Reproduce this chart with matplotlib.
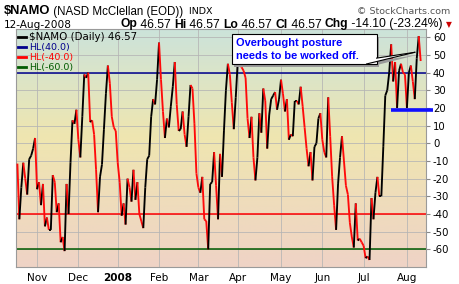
import numpy as np
import pandas as pd
import matplotlib
matplotlib.use("Agg")
import matplotlib.pyplot as plt
from matplotlib.collections import LineCollection
from matplotlib.colors import LinearSegmentedColormap
from matplotlib.lines import Line2D
from matplotlib.patches import Rectangle, Polygon

plt.rcParams['axes.unicode_minus'] = False

# trading days, Oct 18 2007 .. Aug 12 2008
holidays = ['2007-11-22', '2007-12-25', '2008-01-01', '2008-01-21',
            '2008-02-18', '2008-03-21', '2008-05-26', '2008-07-04']
dates = pd.bdate_range('2007-10-18', '2008-08-12')
dates = dates[~dates.isin(pd.to_datetime(holidays))]

# NASD McClellan Oscillator
namo = [-11.5, -43, -25, -11, -20, -29, -9, -7, -3, 3,
        -26, -22, -35, -23, -47, -42, -49, -49, -18, -22,
        -39, -34, -56, -53, -61, -23, -40, -11, 13, 11,
        19, 2, -8, 15, 39, 37, 40, 12, 13, 5,
        -15, -39, -19, -12, 8, 28, 44, 34, 15, 9,
        7, -11, -22, -41, -34, -46, -20, -25, -33, -15,
        -32, -22, -40, -44, -48, -25, -9, -7, 15, 25,
        22, 36, 57, 36, 18, 3, 14, 9, 21, 32,
        46, 22, 7, 8, 18, 5, -2, 15, 33, 31,
        11, -17, -25, -28, -19, -43, -44, -60, -23, -22,
        -5, -24, -43, -6, -19, 7, 30, 45, 39, 23,
        8, 26, 46, 45, 43, 41, 37, 14, 3, 15,
        -8, -21, -8, 17, 6, 31, 24, -3, 16, 25,
        27, 29, 19, 25, 36, 28, 18, 25, 2, 5,
        4, 24, 24, 22, 32, 21, 9, -3, -13, -5,
        -21, -2, 0, 14, 17, 2, -5, -8, 26, 4,
        -19, -35, -49, -23, -8, 4, -10, -24, -29, -45,
        -53, -59, -34, -55, -54, -56, -58, -65, -64, -66,
        -31, -43, -28, -19, -30, -30, -2, 27, 30, 40,
        56, 35, 46, 20, 41, 45, 40, 39, 20, 40,
        44, 35, 25, 48, 60.67, 46.57]
assert len(namo) == len(dates)

hl_levels = [40, -40, -60]
hl_colors = ['#00008c', '#ff0000', '#005a00']
hl_labels = ['HL(40.0)', 'HL(-40.0)', 'HL(-60.0)']
support_level = 19
month_labels = ['Nov', 'Dec', '2008', 'Feb', 'Mar', 'Apr', 'May', 'Jun', 'Jul', 'Aug']
yticks = list(range(-60, 61, 10))

W, H = 460, 284
fig = plt.figure(figsize=(W / 100, H / 100), dpi=100)
ax = fig.add_axes([16 / W, 1 - 267 / H, 410 / W, (267 - 29.5) / H])

x = np.arange(len(dates))
y = np.array(namo)
xmin, xmax, ymin, ymax = -0.7, 207.7, -70, 64.4

# background gradient
cmap = LinearSegmentedColormap.from_list(
    'bg', [(0, '#cce3da'), (0.45, '#efe6b0'), (1, '#efd3c6')])
grad = np.linspace(0, 1, 256).reshape(-1, 1)
ax.imshow(grad, extent=[xmin, xmax, ymin, ymax], aspect='auto', cmap=cmap,
          zorder=0, interpolation='bicubic')

# month ticks at first trading day of each month
month_pos = [i for i in range(1, len(dates)) if dates[i].month != dates[i - 1].month]
ax.set_xticks(month_pos)
ax.set_xticklabels(month_labels)
for lab in ax.get_xticklabels():
    if lab.get_text() == '2008':
        lab.set_fontweight('bold')
ax.set_yticks(yticks)
ax.grid(color='#b4b4b4', lw=0.7, alpha=0.8)
ax.yaxis.tick_right()
ax.tick_params(axis='y', length=3, labelsize=7.3, pad=2, color='#888888')
ax.tick_params(axis='x', length=0, labelsize=7.5, pad=4)
for s in ax.spines.values():
    s.set_color('#9a9a9a')

for lev, c in zip(hl_levels, hl_colors):
    ax.axhline(lev, color=c, lw=1.1, zorder=2)

# price line: black when rising, red when falling
pts = np.column_stack([x, y])
segs = np.stack([pts[:-1], pts[1:]], axis=1)
cols = np.where(np.diff(y) >= 0, '#000000', '#ff0a0a')
ax.add_collection(LineCollection(segs, colors=cols, lw=1.35, zorder=3))

ax.set_xlim(xmin, xmax)
ax.set_ylim(ymin, ymax)

# support line
ax.plot([189.9, 211.2], [support_level, support_level], color='#1010ff', lw=2.6,
        clip_on=False, solid_capstyle='butt', zorder=4)

# legend
handles = [Line2D([], [], color='black', lw=2)] + \
          [Line2D([], [], color=c, lw=2) for c in hl_colors]
labels = ['$NAMO (Daily) 46.57'] + hl_labels
leg = ax.legend(handles, labels, loc='upper left', frameon=False, fontsize=6.8,
                handlelength=0.8, handletextpad=0.35, labelspacing=0.12,
                borderaxespad=0.15, borderpad=0.1,
                labelcolor=['black'] + hl_colors)
leg.get_texts()[0].set_fontsize(7.4)
leg.set_zorder(6)

# annotation box with pointer
ax.add_patch(Rectangle((110.2, 43.4), 73.7, 17.0, fc='#9a9a9a', ec='none', zorder=5))
ax.add_patch(Polygon([(179.5, 43.4), (184.0, 46.8), (203.0, 50.0)], fc='#9a9a9a',
                     ec='none', zorder=5))
ax.add_patch(Rectangle((108.9, 44.9), 73.7, 17.0, fc='white', ec='black', lw=0.8, zorder=6))
tri = [(177.5, 44.9), (182.6, 48.2), (202.0, 51.5)]
ax.add_patch(Polygon(tri, fc='white', ec='none', zorder=7))
ax.plot([tri[0][0], tri[2][0]], [tri[0][1], tri[2][1]], color='black', lw=0.8, zorder=7)
ax.plot([tri[1][0], tri[2][0]], [tri[1][1], tri[2][1]], color='black', lw=0.8, zorder=7)
for txt, yy in [('Overbought posture', 57.0), ('needs to be worked off.', 49.4)]:
    ax.text(111.3, yy, txt, color='#0000ff', fontweight='bold', fontsize=7.9,
            family='Liberation Sans', va='center', ha='left', zorder=8)

# header
renderer = fig.canvas.get_renderer()


def put_row(x0, ypx, pieces, align='left'):
    items = []
    for s, kw in pieces:
        t = fig.text(0, 1 - ypx / H, s, va='center', ha='left', **kw)
        items.append(t)
    widths = [t.get_window_extent(renderer).width for t in items]
    start = x0 if align == 'left' else x0 - sum(widths)
    cur = start
    for t, w in zip(items, widths):
        t.set_x(cur / W)
        cur += w


reg = dict(family='Liberation Sans', fontsize=8.7)
bold = dict(family='Liberation Sans', fontsize=8.7, fontweight='bold')
put_row(4, 11.5, [('$NAMO', dict(family='Liberation Sans', fontsize=9.3, fontweight='bold')),
                  (' (NASD McClellan (EOD))', dict(family='Liberation Sans', fontsize=8.3)),
                  ('  INDX', dict(family='DejaVu Sans', fontsize=6.8))])
fig.text(450 / W, 1 - 11.5 / H, '\u00a9 StockCharts.com', ha='right', va='center',
         family='DejaVu Sans', fontsize=6.8, color='#555555')
fig.text(4 / W, 1 - 24.5 / H, '12-Aug-2008', ha='left', va='center',
         family='DejaVu Sans', fontsize=7.6)
put_row(443, 24.5, [('Op', bold), (' 46.57 ', reg), ('Hi', bold), (' 46.57 ', reg),
                    ('Lo', bold), (' 46.57 ', reg), ('Cl', bold), (' 46.57 ', reg),
                    ('Chg', bold), (' -14.10 (-23.24%)', reg)], align='right')
fig.text(446 / W, 1 - 25 / H, '\u25bc', ha='left', va='center', family='DejaVu Sans',
         fontsize=5.5, color='#cc0000')

fig.savefig('out.png', dpi=100)
